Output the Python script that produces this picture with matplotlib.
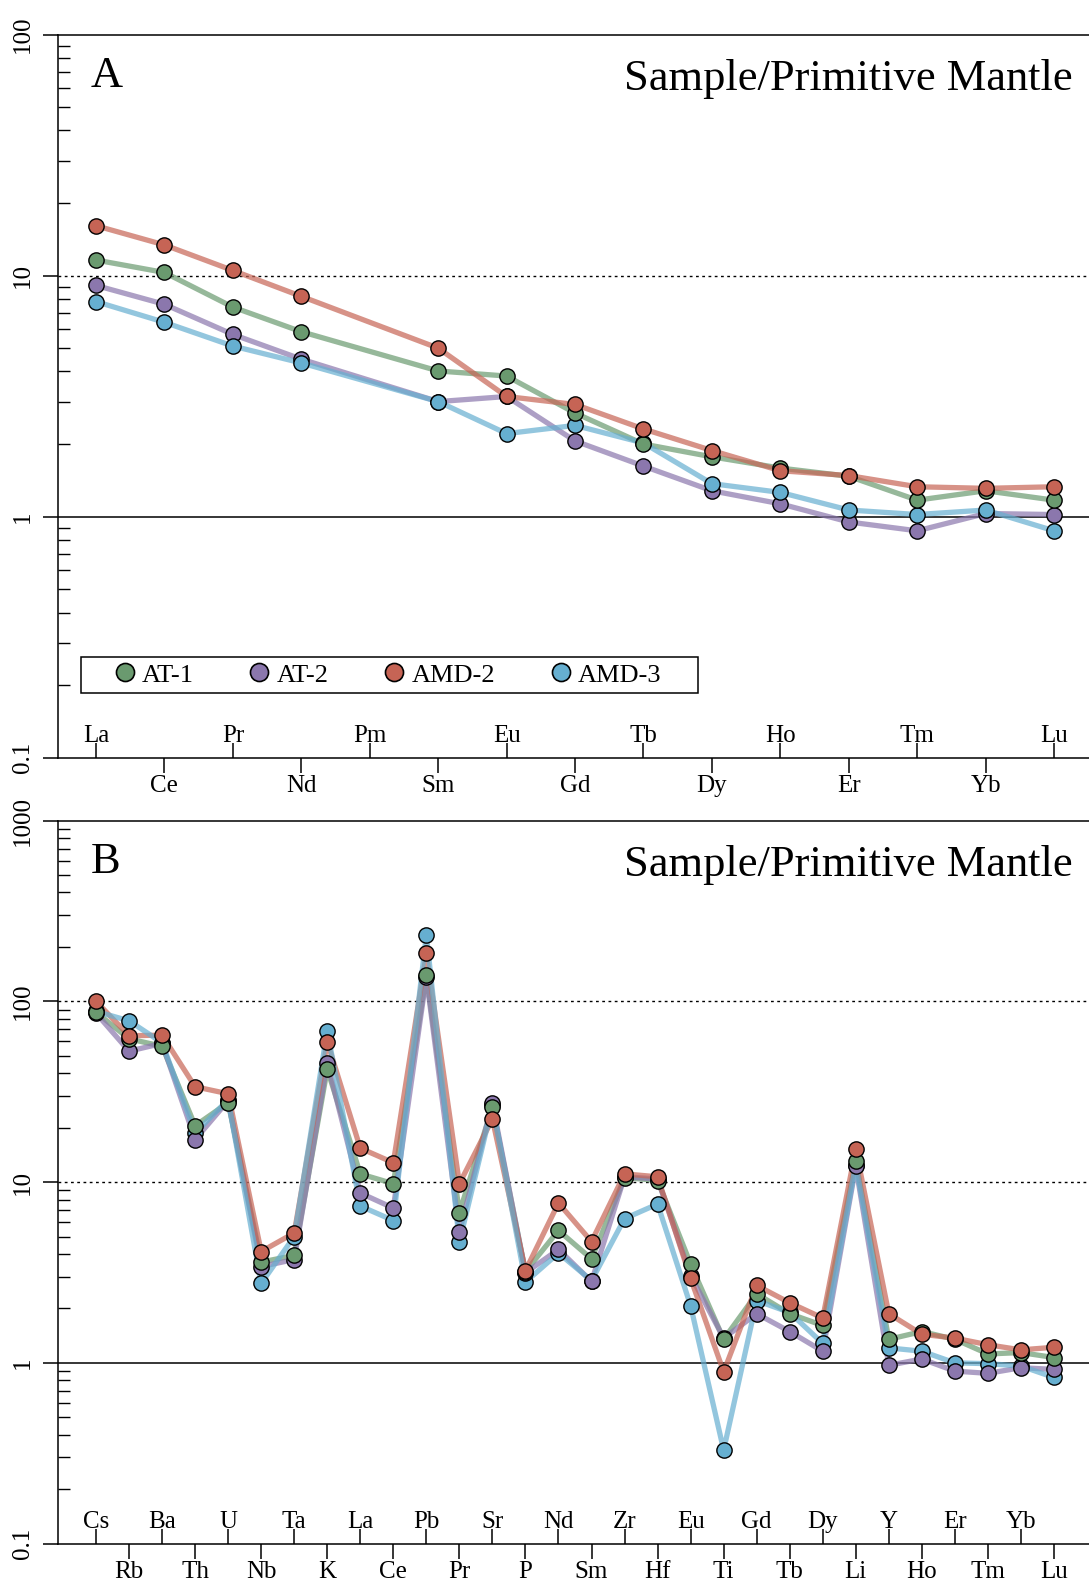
import numpy as np
import matplotlib
matplotlib.use("Agg")
import matplotlib.pyplot as plt
from matplotlib.lines import Line2D
from matplotlib.patches import Rectangle

plt.rcParams['font.family'] = ['Liberation Serif', 'DejaVu Serif']

# ---- data ----
samples = ['AT-1', 'AT-2', 'AMD-2', 'AMD-3']
colors = ['#6a9a6f', '#8b77ad', '#c66455', '#66afd0']

ree = ['La', 'Ce', 'Pr', 'Nd', 'Pm', 'Sm', 'Eu', 'Gd', 'Tb', 'Dy', 'Ho', 'Er', 'Tm', 'Yb', 'Lu']
ree_at1 = [11.6, 10.3, 7.4, 5.85, np.nan, 4.02, 3.83, 2.69, 2.0, 1.77, 1.59, 1.47, 1.17, 1.28, 1.17]
ree_at2 = [9.1, 7.6, 5.7, 4.5, np.nan, 3.0, 3.15, 2.06, 1.62, 1.28, 1.13, 0.95, 0.873, 1.03, 1.02]
ree_amd2 = [16.1, 13.4, 10.5, 8.2, np.nan, 5.0, 3.15, 2.92, 2.31, 1.88, 1.55, 1.48, 1.33, 1.31, 1.33]
ree_amd3 = [7.8, 6.4, 5.1, 4.34, np.nan, 3.0, 2.21, 2.39, 2.02, 1.37, 1.26, 1.065, 1.02, 1.065, 0.873]

trace = ['Cs', 'Rb', 'Ba', 'Th', 'U', 'Nb', 'Ta', 'K', 'La', 'Ce', 'Pb', 'Pr', 'Sr', 'P', 'Nd',
         'Sm', 'Zr', 'Hf', 'Eu', 'Ti', 'Gd', 'Tb', 'Dy', 'Li', 'Y', 'Ho', 'Er', 'Tm', 'Yb', 'Lu']
tr_at1 = [87, 62, 56.4, 20.5, 27.5, 3.61, 3.93, 42.1, 11.1, 9.8, 139, 6.78, 26.1, 3.2, 5.4,
          3.76, 10.6, 10.2, 3.52, 1.35, 2.41, 1.87, 1.61, 13.1, 1.35, 1.49, 1.35, 1.12, 1.14, 1.07]
tr_at2 = [86, 53, 58.5, 17.2, 28.2, 3.41, 3.73, 45.8, 8.7, 7.18, 136, 5.3, 27.3, 3.15, 4.24,
          2.82, 10.7, 10.4, 3.04, 1.37, 1.87, 1.49, 1.16, 12.2, 0.97, 1.05, 0.90, 0.875, 0.94, 0.92]
tr_amd2 = [100, 64.5, 65, 33.7, 30.8, 4.13, 5.23, 59.7, 15.4, 12.8, 184, 9.8, 22.3, 3.24, 7.66,
           4.69, 11.1, 10.7, 2.93, 0.892, 2.68, 2.15, 1.77, 15.2, 1.87, 1.44, 1.37, 1.26, 1.18, 1.22]
tr_amd3 = [88, 78, 59, 18.7, 28.6, 2.75, 5.0, 68.7, 7.37, 6.13, 234, 4.66, 26.6, 2.8, 4.05,
           2.85, 6.28, 7.56, 2.07, 0.329, 2.21, 1.9, 1.28, 12.5, 1.21, 1.16, 1.0, 0.99, 0.96, 0.83]

fig = plt.figure(figsize=(10.89, 15.85), dpi=100)
axA = fig.add_axes([0.0529, 0.5220, 0.9471, 0.4562])
axB = fig.add_axes([0.0529, 0.0261, 0.9471, 0.4562])

TS = 18


def setup(ax, names, series, ymax, xlim, marker_order, letter):
    x = np.arange(len(names))
    ax.set_yscale('log')
    ax.set_ylim(0.1, ymax)
    ax.set_xlim(*xlim)
    for sp in ['left', 'top', 'bottom']:
        ax.spines[sp].set_linewidth(1.1)
    ax.spines['right'].set_visible(False)

    ax.axhline(1, color='black', lw=1.1, zorder=1)
    for v in [10, 100]:
        if v < ymax:
            ax.axhline(v, color='black', lw=1.0, ls=(0, (2, 2.5)), zorder=1)

    # lines first
    for vals, c in zip(series, colors):
        v = np.array(vals, dtype=float)
        m = ~np.isnan(v)
        ax.plot(x[m], v[m], color=c, lw=3.8, alpha=0.7, solid_capstyle='round', zorder=2)
    # markers
    for i in marker_order:
        v = np.array(series[i], dtype=float)
        m = ~np.isnan(v)
        ax.plot(x[m], v[m], ls='none', marker='o', ms=11, mfc=colors[i],
                mec='black', mew=1.0, zorder=3)

    # y ticks
    decades = [10.0 ** k for k in range(-1, int(round(np.log10(ymax))) + 1)]
    ylabels = ['0.1' if d < 1 else str(int(d)) for d in decades]
    ax.set_yticks(decades, ylabels, rotation=90, va='center', fontsize=TS)
    ax.tick_params(axis='y', which='major', direction='out', length=10.8, width=1.1, pad=6)
    ax.tick_params(axis='y', which='minor', direction='in', length=8.3, width=1.0)
    ax.yaxis.set_minor_locator(matplotlib.ticker.LogLocator(base=10, subs=np.arange(2, 10)))
    ax.yaxis.set_minor_formatter(matplotlib.ticker.NullFormatter())

    # x ticks: even inside with labels above, odd outside with labels below
    ax.set_xticks(x[::2], names[::2], fontsize=TS)
    ax.set_xticks(x[1::2], names[1::2], minor=True, fontsize=TS)
    ax.tick_params(axis='x', which='major', direction='in', length=10.8, width=1.1, pad=-11.0)
    ax.tick_params(axis='x', which='minor', direction='out', length=10.8, width=1.1, pad=1.5)
    for lbl in ax.get_xticklabels():
        lbl.set_va('baseline')

    ax.text(0.0324, 0.928, letter, transform=ax.transAxes, fontsize=32, ha='left', va='baseline')
    ax.text(0.9845, 0.924, 'Sample/Primitive Mantle', transform=ax.transAxes, fontsize=32,
            ha='right', va='baseline')


setup(axA, ree, [ree_at1, ree_at2, ree_amd2, ree_amd3], 100, (-0.561, 14.51), [1, 3, 0, 2], 'A')
setup(axB, trace, [tr_at1, tr_at2, tr_amd2, tr_amd3], 1000, (-1.163, 30.06), [3, 1, 0, 2], 'B')

# legend in panel A
handles = [Line2D([], [], ls='none', marker='o', ms=13, mfc=c, mec='black', mew=1.2)
           for c in colors]
leg = axA.legend(handles, samples, ncol=4, loc='center left', bbox_to_anchor=(0.0547, 0.1144),
                 frameon=False, fontsize=19, handlelength=0.8, handletextpad=0.26,
                 columnspacing=2.08, borderpad=0, borderaxespad=0)
axA.add_patch(Rectangle((0.0227, 0.0895), 0.5983, 0.0498, transform=axA.transAxes,
                        fill=False, ec='black', lw=1.1, zorder=4))

fig.savefig('out.png', dpi=100)
